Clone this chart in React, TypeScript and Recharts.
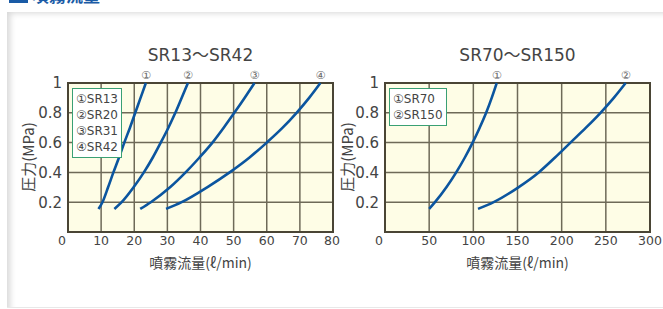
import { CartesianGrid, Line, LineChart, ReferenceArea, XAxis, YAxis } from 'recharts'

// 圧力 (MPa) — 読み取り点の共通縦軸
const pressure = [0.155, 0.2, 0.3, 0.4, 0.5, 0.6, 0.7, 0.8, 0.9, 1.0]

// 噴霧流量 (ℓ/min) — グラフから読み取り
const sr13Flow = [9.2, 10.4, 12.1, 13.7, 15.4, 17.0, 18.7, 20.3, 21.9, 23.5]
const sr20Flow = [14.0, 16.2, 19.8, 22.9, 25.6, 28.0, 30.3, 32.4, 34.3, 36.2]
const sr31Flow = [21.8, 25.0, 30.8, 35.5, 39.7, 43.6, 47.0, 50.2, 53.3, 56.3]
const sr42Flow = [29.6, 34.3, 42.0, 48.8, 54.8, 60.0, 64.8, 69.0, 72.8, 76.2]
const sr70Flow = [50, 56.6, 69.5, 80.6, 90.4, 99.2, 107.2, 114.5, 120.8, 126.5]
const sr150Flow = [105.3, 123, 151, 174, 192.5, 210, 227.5, 244, 259, 272.5]

const smallTitle = 'SR13～SR42'
const largeTitle = 'SR70～SR150'
const smallXTicks = [0, 10, 20, 30, 40, 50, 60, 70, 80]
const largeXTicks = [0, 50, 100, 150, 200, 250, 300]
const yTicks = [0, 0.2, 0.4, 0.6, 0.8, 1]
const smallSeries = [
  { mark: '①', name: 'SR13', flow: sr13Flow },
  { mark: '②', name: 'SR20', flow: sr20Flow },
  { mark: '③', name: 'SR31', flow: sr31Flow },
  { mark: '④', name: 'SR42', flow: sr42Flow },
]
const largeSeries = [
  { mark: '①', name: 'SR70', flow: sr70Flow },
  { mark: '②', name: 'SR150', flow: sr150Flow },
]

const FONT = '"DejaVu Sans", "Noto Sans CJK JP", sans-serif'
const CJK_FONT = '"Noto Sans CJK JP", sans-serif'
const LINE_COLOR = '#0b559f'
const TEXT_COLOR = '#444'
const GRID_COLOR = '#6e6a58'
const BORDER_COLOR = '#4a4535'
const PLOT_BG = '#fefde6'

const toPoints = (flow: number[]) => flow.map((f, i) => ({ flow: f, p: pressure[i] }))

const endMark = (mark: string, lastIndex: number) => (props: any) => {
  if (props.index !== lastIndex) return null
  return (
    <text x={props.x} y={props.y - 4} textAnchor="middle" fontSize={11} fill="#666" fontFamily={FONT}>
      {mark}
    </text>
  )
}

const XTick = ({ x, y, payload }: any) => (
  <text
    x={payload.value === 0 ? x - 6 : x}
    y={y}
    dy="0.71em"
    textAnchor="middle"
    fontSize={12.5}
    fill={TEXT_COLOR}
    fontFamily={FONT}
  >
    {payload.value}
  </text>
)

interface IFlowChart {
  left: number
  width: number
  plotLeft: number
  plotRight: number
  labelX: number
  xMax: number
  xTicks: number[]
  title: string
  series: { mark: string; name: string; flow: number[] }[]
}

function FlowChart({ left, width, plotLeft, plotRight, labelX, xMax, xTicks, title, series }: IFlowChart) {
  const centerX = (plotLeft + plotRight) / 2
  return (
    <div style={{ position: 'absolute', left, top: 0, width, height: 309 }}>
      <div
        style={{
          position: 'absolute',
          left: centerX - 80,
          width: 160,
          top: 45,
          textAlign: 'center',
          fontSize: 17,
          lineHeight: '20px',
          color: TEXT_COLOR,
        }}
      >
        {title}
      </div>
      <div
        style={{
          position: 'absolute',
          left: labelX - 50,
          top: 147,
          width: 100,
          textAlign: 'center',
          fontSize: 15,
          lineHeight: '20px',
          color: TEXT_COLOR,
          fontFamily: CJK_FONT,
          transform: 'rotate(-90deg)',
        }}
      >
        圧力(MPa)
      </div>
      <div
        style={{
          position: 'absolute',
          left: centerX - 80,
          width: 160,
          top: 252,
          textAlign: 'center',
          fontSize: 14,
          lineHeight: '20px',
          color: TEXT_COLOR,
          fontFamily: CJK_FONT,
        }}
      >
        噴霧流量(ℓ/min)
      </div>
      <LineChart
        width={width}
        height={309}
        margin={{ top: 83, right: width - plotRight, bottom: 47, left: 8 }}
        style={{ position: 'absolute', left: 0, top: 0 }}
      >
        <CartesianGrid stroke={GRID_COLOR} strokeWidth={1.5} fill={PLOT_BG} fillOpacity={1} />
        <ReferenceArea
          x1={0}
          x2={xMax}
          y1={0}
          y2={1}
          fill="none"
          stroke={BORDER_COLOR}
          strokeWidth={2}
          strokeOpacity={1}
        />
        <XAxis
          type="number"
          dataKey="flow"
          domain={[0, xMax]}
          ticks={xTicks}
          height={30}
          axisLine={false}
          tickLine={false}
          tickSize={2}
          tickMargin={2}
          tick={<XTick />}
          allowDuplicatedCategory={false}
        />
        <YAxis
          type="number"
          dataKey="p"
          domain={[0, 1]}
          ticks={yTicks}
          width={plotLeft - 8}
          axisLine={false}
          tickLine={false}
          tickSize={4}
          tickMargin={2}
          tickFormatter={(v: number) => (v === 0 ? '' : String(v))}
          tick={{ fontSize: 15, fill: TEXT_COLOR, fontFamily: FONT }}
        />
        {series.map((s) => (
          <Line
            key={s.name}
            data={toPoints(s.flow)}
            dataKey="p"
            type="monotone"
            stroke={LINE_COLOR}
            strokeWidth={2.6}
            dot={false}
            isAnimationActive={false}
            label={endMark(s.mark, s.flow.length - 1)}
          />
        ))}
      </LineChart>
      <div
        style={{
          position: 'absolute',
          left: plotLeft + 4,
          top: 88,
          padding: '2px 3px 2px 3px',
          border: '1.5px solid #3aa074',
          background: '#fff',
          fontSize: 12,
          lineHeight: '16px',
          color: TEXT_COLOR,
          fontFamily: FONT,
        }}
      >
        {series.map((s) => (
          <div key={s.name} style={{ height: 16 }}>
            {`${s.mark}${s.name}`}
          </div>
        ))}
      </div>
    </div>
  )
}

export default function App() {
  return (
    <div
      style={{
        position: 'absolute',
        left: 0,
        top: 0,
        width: 663,
        height: 309,
        background: '#fff',
        overflow: 'hidden',
        fontFamily: FONT,
      }}
    >
      <div style={{ position: 'absolute', left: 9, top: 0, width: 19, height: 3, background: '#1a5ba6' }} />
      <div style={{ position: 'absolute', left: 0, top: 0, width: 200, height: 4, overflow: 'hidden' }}>
        <div
          style={{
            position: 'absolute',
            left: 32,
            top: -14,
            fontSize: 17,
            lineHeight: '17px',
            fontWeight: 700,
            color: '#1a5ba6',
            fontFamily: CJK_FONT,
          }}
        >
          噴霧流量
        </div>
      </div>
      <div
        style={{
          position: 'absolute',
          left: 7,
          top: 12,
          width: 670,
          height: 295,
          borderBottom: '1px solid #e8e8e8',
          boxShadow: 'inset 7px 5px 6px -4px rgba(0,0,0,0.16)',
        }}
      />
      <FlowChart
        left={0}
        width={340}
        plotLeft={68}
        plotRight={333}
        labelX={28}
        xMax={80}
        xTicks={smallXTicks}
        title={smallTitle}
        series={smallSeries}
      />
      <FlowChart
        left={330}
        width={333}
        plotLeft={55}
        plotRight={320}
        labelX={17}
        xMax={300}
        xTicks={largeXTicks}
        title={largeTitle}
        series={largeSeries}
      />
    </div>
  )
}
